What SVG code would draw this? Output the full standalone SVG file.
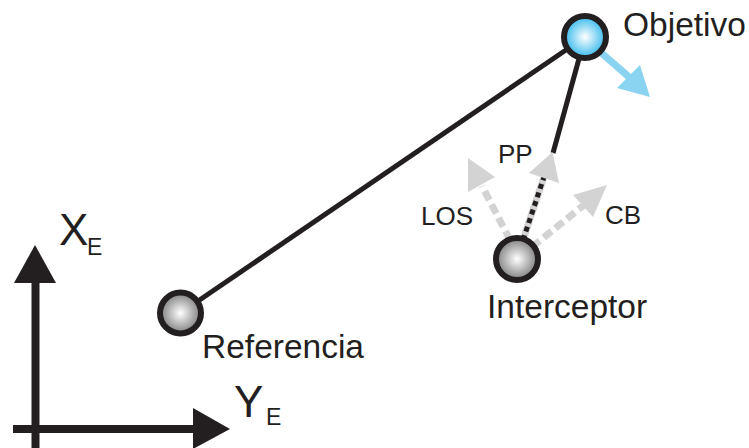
<svg xmlns="http://www.w3.org/2000/svg" width="749" height="448" viewBox="0 0 749 448">
  <defs>
    <radialGradient id="gGray" cx="0.5" cy="0.5" r="0.55">
      <stop offset="0" stop-color="#ffffff"/>
      <stop offset="1" stop-color="#707070"/>
    </radialGradient>
    <radialGradient id="gBlue" cx="0.5" cy="0.5" r="0.55">
      <stop offset="0" stop-color="#ffffff"/>
      <stop offset="1" stop-color="#1fb2ea"/>
    </radialGradient>
    <style>
      .lbl { font-family: "Liberation Sans", Arial, sans-serif; fill: #231f20; }
      .big { font-size: 33.5px; }
      .small { font-size: 26px; }
      .axis { font-size: 44px; }
      .sub { font-size: 23px; }
      .node { stroke: #231f20; stroke-width: 6; }
      .link { stroke: #231f20; stroke-width: 5; fill: none; }
      .gshaft { stroke: #d3d3d3; stroke-width: 7; fill: none; stroke-dasharray: 10 5; }
      .ghead { fill: #d3d3d3; }
    </style>
  </defs>

  <g id="connectors">
    <line class="link" x1="585" y1="37" x2="180.5" y2="313"/>
    <line class="link" x1="585" y1="37" x2="553" y2="153"/>
    <line x1="598" y1="50" x2="629" y2="77" stroke="#8ad4f2" stroke-width="7"/>
    <polygon points="650,97 617,88 640,65" fill="#8ad4f2"/>
    <line class="gshaft" x1="510" y1="240" x2="482" y2="186"/>
    <polygon class="ghead" points="468,158 495,177 468,192"/>
    <line class="gshaft" x1="532" y1="247" x2="584" y2="205"/>
    <polygon class="ghead" points="607,185 573,195 593,217"/>
    <line x1="523" y1="240" x2="544" y2="177" stroke="#d3d3d3" stroke-width="7"/>
    <line x1="523" y1="240" x2="544" y2="177" stroke="#231f20" stroke-width="5" stroke-dasharray="5 4"/>
    <polygon class="ghead" points="552.5,152 529,173 559,183"/>
  </g>

  <g id="axes">
    <line x1="35.5" y1="280" x2="35.5" y2="448" stroke="#231f20" stroke-width="8"/>
    <polygon points="35,245 14,283 56,283" fill="#231f20"/>
    <line x1="13" y1="429" x2="196" y2="429" stroke="#231f20" stroke-width="8"/>
    <polygon points="230,429 193,408 193,449" fill="#231f20"/>
    <text class="lbl axis" x="59" y="245">X</text>
    <text class="lbl sub" x="87" y="255">E</text>
    <text class="lbl axis" x="234" y="417">Y</text>
    <text class="lbl sub" x="266" y="425">E</text>
  </g>

  <g id="objetivo">
    <circle class="node" cx="585" cy="37" r="21" fill="url(#gBlue)"/>
    <text class="lbl big" x="623" y="36">Objetivo</text>
  </g>

  <g id="referencia">
    <circle class="node" cx="180.5" cy="313" r="20.5" fill="url(#gGray)"/>
    <text class="lbl big" x="202" y="358">Referencia</text>
  </g>

  <g id="interceptor">
    <circle class="node" cx="517" cy="259" r="21" fill="url(#gGray)"/>
    <text class="lbl big" x="487" y="318">Interceptor</text>
  </g>

  <g id="labels">
    <text class="lbl small" x="498" y="163">PP</text>
    <text class="lbl small" x="421" y="225">LOS</text>
    <text class="lbl small" x="605" y="224">CB</text>
  </g>
</svg>
